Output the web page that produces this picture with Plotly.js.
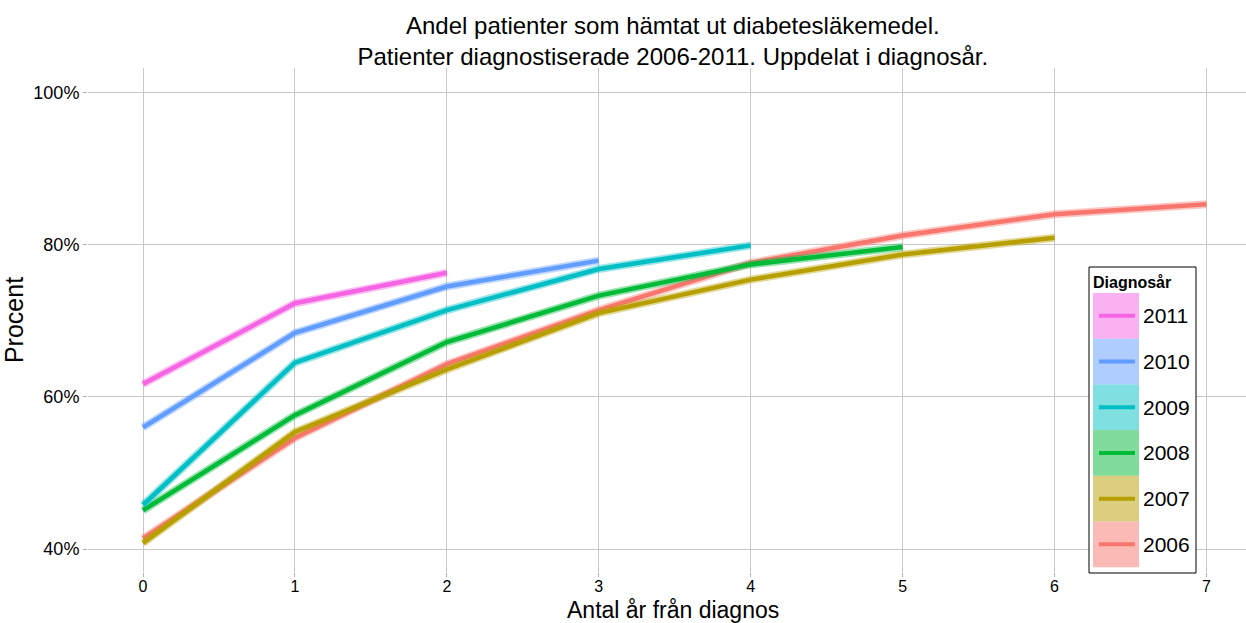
<!DOCTYPE html>
<html>
<head>
<meta charset="utf-8">
<script src="https://cdn.plot.ly/plotly-3.0.1.min.js"></script>
<style>html,body{margin:0;padding:0;background:#fff;}#chart{width:1246px;height:623px;}</style>
</head>
<body>
<div id="chart"></div>
<script>
// ---- data ----
const years = ["2006", "2007", "2008", "2009", "2010", "2011"];
const colors = ["#F8766D", "#B79F00", "#00BA38", "#00BFC4", "#619CFF", "#F564E3"];
const x2006 = [0, 1, 2, 3, 4, 5, 6, 7];
const y2006 = [41.4, 54.6, 64.3, 71.4, 77.6, 81.2, 84.0, 85.3];
const x2007 = [0, 1, 2, 3, 4, 5, 6];
const y2007 = [40.8, 55.4, 63.6, 71.0, 75.4, 78.7, 80.9];
const x2008 = [0, 1, 2, 3, 4, 5];
const y2008 = [45.1, 57.6, 67.2, 73.3, 77.4, 79.7];
const x2009 = [0, 1, 2, 3, 4];
const y2009 = [45.8, 64.5, 71.4, 76.8, 79.9];
const x2010 = [0, 1, 2, 3];
const y2010 = [56.0, 68.4, 74.5, 77.9];
const x2011 = [0, 1, 2];
const y2011 = [61.7, 72.3, 76.3];
const xs = [x2006, x2007, x2008, x2009, x2010, x2011];
const ys = [y2006, y2007, y2008, y2009, y2010, y2011];
const xTicks = [0, 1, 2, 3, 4, 5, 6, 7];
const yTicks = [40, 60, 80, 100];
const yTickText = ["40%", "60%", "80%", "100%"];
const xTitle = "Antal år från diagnos";

function hexA(h, a) {
  const r = parseInt(h.slice(1,3),16), g = parseInt(h.slice(3,5),16), b = parseInt(h.slice(5,7),16);
  return `rgba(${r},${g},${b},${a})`;
}

const traces = [];
years.forEach((yr, i) => {
  traces.push({x: xs[i], y: ys[i], type: 'scatter', mode: 'lines', showlegend: false, hoverinfo: 'skip',
    line: {color: hexA(colors[i], 0.4), width: 8}});
  traces.push({x: xs[i], y: ys[i], type: 'scatter', mode: 'lines', name: yr, showlegend: false,
    line: {color: colors[i], width: 4.5}});
});

// ---- custom legend (paper coords from pixel layout) ----
const L = 88, R = 1246, T = 68, B = 572;
const px = v => (v - L) / (R - L);
const py = v => (B - v) / (B - T);
const shapes = [];
const annotations = [];
shapes.push({type: 'rect', xref: 'paper', yref: 'paper', x0: px(1089), x1: px(1196), y0: py(267), y1: py(573),
  line: {color: '#000', width: 1}, fillcolor: '#fff', layer: 'above'});
annotations.push({xref: 'paper', yref: 'paper', x: px(1091), y: py(282), xanchor: 'left', yanchor: 'middle',
  text: '<b>Diagnosår</b>', showarrow: false, font: {size: 16, color: '#000'}});
const keyTop = 293, keyH = 45.7;
for (let k = 0; k < years.length; k++) {
  const i = years.length - 1 - k;
  const t0 = keyTop + k * keyH, t1 = t0 + keyH, mid = (t0 + t1) / 2;
  shapes.push({type: 'rect', xref: 'paper', yref: 'paper', x0: px(1093), x1: px(1139), y0: py(t1), y1: py(t0),
    line: {width: 0}, fillcolor: hexA(colors[i], 0.5), layer: 'above'});
  shapes.push({type: 'line', xref: 'paper', yref: 'paper', x0: px(1099), x1: px(1135), y0: py(mid), y1: py(mid),
    line: {color: colors[i], width: 4}, layer: 'above'});
  annotations.push({xref: 'paper', yref: 'paper', x: px(1141), y: py(mid), xanchor: 'left', yanchor: 'middle',
    text: years[i], showarrow: false, font: {size: 21, color: '#000'}});
}
// x-axis title placed at the bottom edge
annotations.push({xref: 'paper', yref: 'paper', x: px(673), y: py(624), xanchor: 'center', yanchor: 'bottom',
  text: xTitle, showarrow: false, font: {size: 23, color: '#000'}, borderpad: 0});

const layout = {
  width: 1246, height: 623,
  margin: {l: L, r: 1246 - R, t: T, b: 623 - B, pad: 0},
  paper_bgcolor: '#fff', plot_bgcolor: '#fff',
  font: {family: '"Liberation Sans", Arial, sans-serif', color: '#000'},
  title: {text: 'Andel patienter som hämtat ut diabetesläkemedel.<br>Patienter diagnostiserade 2006-2011. Uppdelat i diagnosår.',
    font: {size: 24, color: '#000'}, x: 0.54, xanchor: 'center', yref: 'container', y: 1 - 34 / 623, yanchor: 'middle'},
  xaxis: {range: [-0.362, 7.26], tickvals: xTicks, ticktext: xTicks.map(String), showgrid: true, gridcolor: '#c8c8c8', gridwidth: 1,
    zeroline: false, showline: false, ticks: 'outside', ticklen: 4, tickcolor: '#b0b0b0', tickfont: {size: 16, color: '#000'},
    ticklabelstandoff: -4},
  yaxis: {range: [37.0, 103.2], tickvals: yTicks, ticktext: yTickText, showgrid: true, gridcolor: '#c8c8c8', gridwidth: 1,
    zeroline: false, showline: false, ticks: 'outside', ticklen: 4, tickcolor: '#b0b0b0', tickfont: {size: 18, color: '#000'},
    title: {text: 'Procent', font: {size: 25, color: '#000'}, standoff: 12}},
  showlegend: false,
  shapes: shapes,
  annotations: annotations
};

Plotly.newPlot('chart', traces, layout, {displayModeBar: false, staticPlot: true});
</script>
</body>
</html>
